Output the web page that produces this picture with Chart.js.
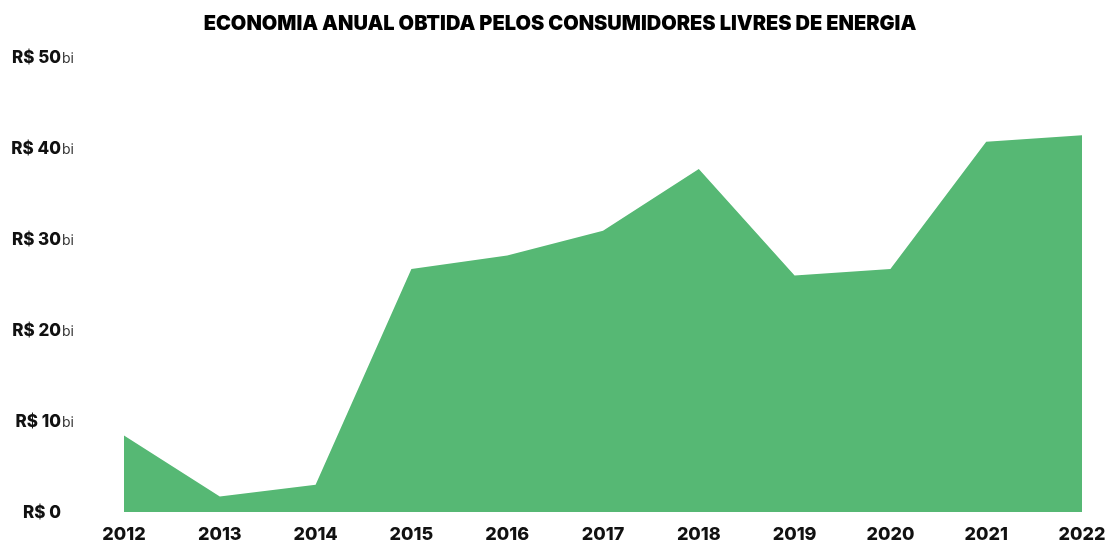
<!DOCTYPE html>
<html>
<head>
<meta charset="utf-8">
<script src="https://cdn.jsdelivr.net/npm/chart.js@4"></script>
<style>
  html, body { margin: 0; padding: 0; background: #fff; }
  #wrap { width: 1107px; height: 542px; }
</style>
</head>
<body>
<div id="wrap"><canvas id="myChart"></canvas></div>
<script>
const years = ['2012', '2013', '2014', '2015', '2016', '2017', '2018', '2019', '2020', '2021', '2022'];
const economia = [8.4, 1.7, 3.0, 26.7, 28.2, 30.9, 37.7, 26.0, 26.7, 40.7, 41.4];
const yTicks = [0, 10, 20, 30, 40, 50];
const tickUnit = 'bi';

// draws "R$ 50" in bold with a small "bi" after it
const yLabels = {
    id: 'yLabels',
    afterDraw(chart) {
        const ctx = chart.ctx;
        const y = chart.scales.y;
        ctx.save();
        ctx.textBaseline = 'middle';
        yTicks.forEach(v => {
            const py = y.getPixelForValue(v) + 1;
            ctx.font = '800 17px Inter';
            ctx.fillStyle = '#111';
            ctx.textAlign = 'right';
            ctx.fillText('R$ ' + v, 61, py);
            if (v !== 0) {
                ctx.font = '14px Inter';
                ctx.fillStyle = '#333';
                ctx.textAlign = 'left';
                ctx.fillText(tickUnit, 62, py + 1);
            }
        });
        ctx.restore();
    }
};

function draw_chart() {
    const ctx = document.getElementById('myChart');

    new Chart(ctx, {
        type: 'line',
        data: {
            labels: years,
            datasets: [{
                label: 'Economia anual',
                data: economia,
                fill: 'origin',
                backgroundColor: '#56b874',
                borderWidth: 0,
                pointRadius: 0,
                tension: 0
            }]
        },
        options: {
            responsive: true,
            maintainAspectRatio: false,
            animation: false,
            layout: {
                padding: { left: 38, right: 25, top: 0, bottom: 0 }
            },
            plugins: {
                legend: { display: false },
                tooltip: { enabled: false },
                title: {
                    display: true,
                    text: 'ECONOMIA ANUAL OBTIDA PELOS CONSUMIDORES LIVRES DE ENERGIA',
                    color: '#000',
                    font: { family: 'Inter', size: 20, weight: 900 },
                    padding: { top: 12, bottom: 21 }
                }
            },
            scales: {
                x: {
                    offset: false,
                    grid: { display: false, drawTicks: false },
                    border: { display: false },
                    ticks: {
                        color: '#111',
                        padding: 12,
                        maxRotation: 0,
                        font: { family: 'Inter', size: 18, weight: 800 }
                    },
                    afterFit(scale) {
                        scale.height = 30;
                        scale.paddingLeft = 0;
                        scale.paddingRight = 0;
                    }
                },
                y: {
                    min: 0,
                    max: 50,
                    grid: { display: false, drawTicks: false },
                    border: { display: false },
                    ticks: { display: false, stepSize: 10 },
                    afterFit(scale) { scale.width = 86; }
                }
            }
        },
        plugins: [yLabels]
    });
}

draw_chart();
</script>
</body>
</html>
